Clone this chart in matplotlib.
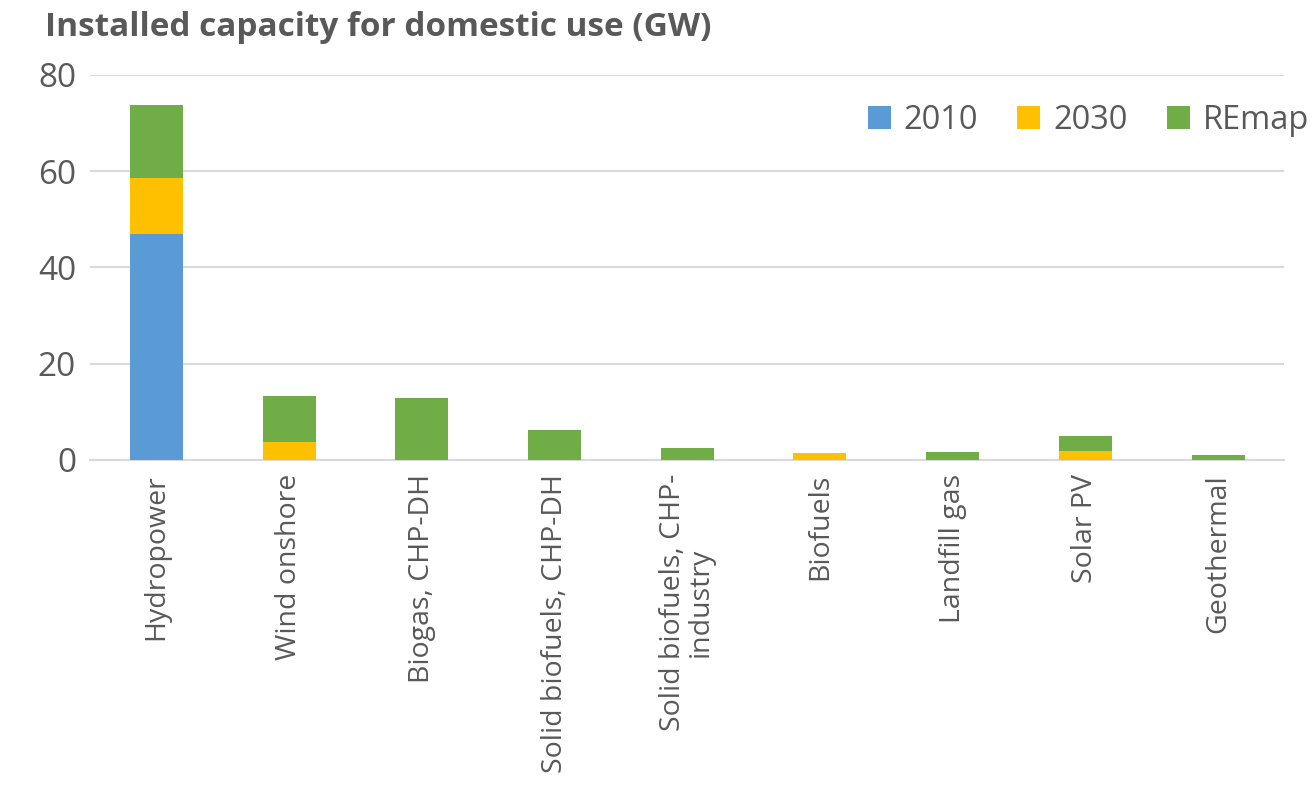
import matplotlib.pyplot as plt
import numpy as np

categories = ["Hydropower", "Wind onshore", "Biogas, CHP-DH", "Solid biofuels, CHP-DH",
              "Solid biofuels, CHP-\nindustry", "Biofuels", "Landfill gas", "Solar PV", "Geothermal"]
cap_2010 = [47.0, 0, 0, 0, 0, 0, 0, 0, 0]
cap_2030 = [11.5, 3.7, 0, 0, 0, 1.5, 0, 1.9, 0]
cap_remap = [15.3, 9.5, 12.95, 6.2, 2.5, 0, 1.6, 3.1, 1.1]

plt.rcParams['font.family'] = ['Open Sans', 'DejaVu Sans']
grey = "#595959"

fig = plt.figure(figsize=(13.12, 7.89), dpi=100)
ax = fig.add_axes([0.0686, 0.417, 0.9104, 0.488])

x = np.arange(len(categories))
w = 0.4
b1 = ax.bar(x, cap_2010, w, color="#5b9bd5", label="2010", zorder=3)
b2 = ax.bar(x, cap_2030, w, bottom=cap_2010, color="#ffc000", label="2030", zorder=3)
base = np.array(cap_2010) + np.array(cap_2030)
b3 = ax.bar(x, cap_remap, w, bottom=base, color="#70ad47", label="REmap", zorder=3)

ax.set_xlim(-0.5, len(categories) - 0.5)
ax.set_ylim(0, 80)
ax.set_yticks([0, 20, 40, 60, 80])
ax.yaxis.grid(True, color="#d9d9d9", linewidth=1.5, zorder=0)
for s in ["top", "right", "left"]:
    ax.spines[s].set_visible(False)
ax.spines["bottom"].set_color("#d9d9d9")
ax.spines["bottom"].set_linewidth(1.5)

ax.set_xticks(x)
ax.set_xticklabels(categories, rotation=90, fontsize=20.5, color=grey, va="top", ha="center",
                   linespacing=1.0)
ax.tick_params(axis="x", length=0, pad=10)
ax.tick_params(axis="y", length=0, labelsize=24, labelcolor=grey, pad=10)

fig.text(0.034, 0.965, "Installed capacity for domestic use (GW)", fontsize=24,
         fontweight="bold", color=grey, va="center", ha="left")

fig.legend(handles=[b1, b2, b3], loc="center right", bbox_to_anchor=(1.02, 0.847), ncol=3,
           frameon=False, fontsize=23.5, labelcolor=grey, handlelength=0.7, handleheight=0.7,
           columnspacing=1.2, handletextpad=0.4)

fig.savefig("out.png", dpi=100)
